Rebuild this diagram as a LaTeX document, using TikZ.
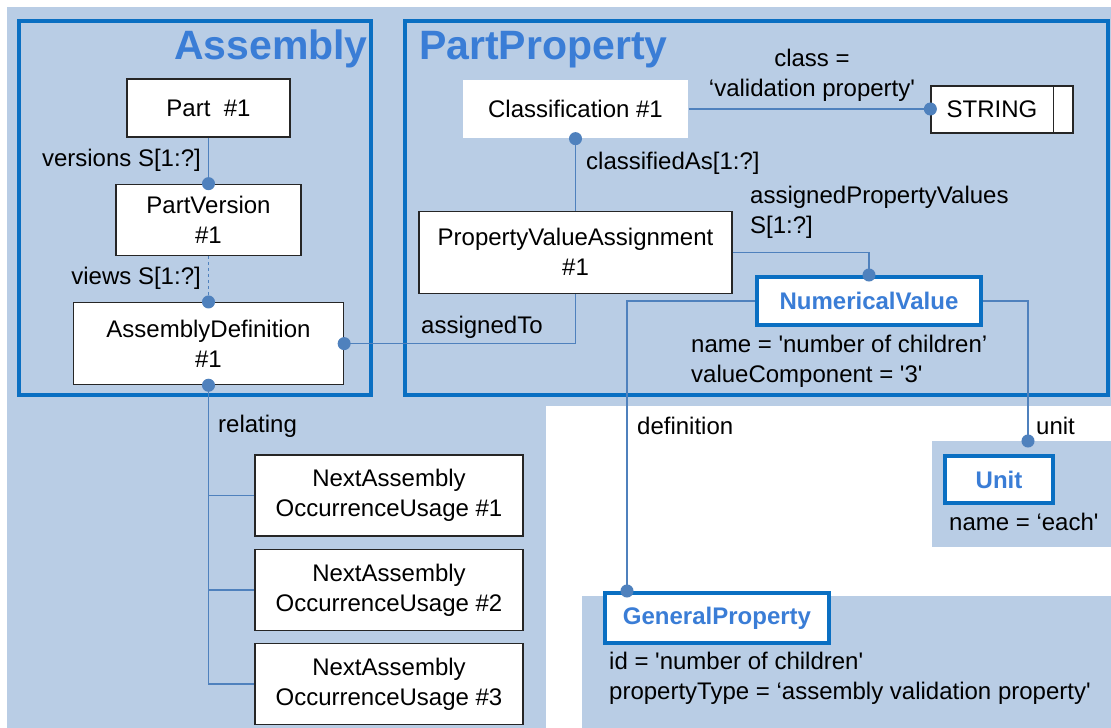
\documentclass[tikz,border=0pt]{standalone}
\usepackage{fontspec}
\newfontfamily\diagfont{Liberation Sans}
\usepackage{tikz}
\usetikzlibrary{arrows.meta, positioning, calc}
\definecolor{panelblue}{HTML}{B9CDE5}
\definecolor{frameblue}{HTML}{0A6FC2}
\definecolor{titleblue}{HTML}{3A7DD6}
\definecolor{linkblue}{HTML}{4F81BD}

\begin{document}
\begin{tikzpicture}[
    x=1pt, y=-1pt,
    node distance=46pt,
    every node/.style={font=\diagfont\fontsize{24}{30}\selectfont},
    obj/.style={rectangle, draw=black!85, line width=1.3pt, fill=white, inner sep=0pt, align=center},
    ent/.style={rectangle, draw=frameblue, line width=4pt, fill=white, inner sep=0pt, text=titleblue, font=\diagfont\bfseries\fontsize{24}{30}\selectfont},
    pkg/.style={draw=frameblue, line width=4pt},
    pkgtitle/.style={inner sep=0pt, text=titleblue, font=\diagfont\bfseries\fontsize{41}{48}\selectfont},
    lbl/.style={inner sep=0pt, align=left},
    link/.style={draw=linkblue, line width=1.5pt},
    dotend/.style={-{Circle[length=13pt]}, shorten >=-6.5pt},
    dotstart/.style={{Circle[length=13pt]}-, shorten <=-6.5pt},
  ]
    \useasboundingbox (0,0) rectangle (1111,728);
    % backgrounds
    \fill[panelblue] (7,7) rectangle (1111,728);
    \fill[white] (546,406) rectangle (1111,728);
    \fill[panelblue] (932,441) rectangle (1111,547);
    \fill[panelblue] (582,596) rectangle (1111,728);
    \draw[pkg] (19,21) rectangle (371,395);
    \draw[pkg] (405,21) rectangle (1108,395);
    \node[pkgtitle, anchor=base east] (asmtitle) at (368,59) {Assembly};
    \node[pkgtitle, anchor=base west] (pptitle) at (419,59) {PartProperty};

    % Assembly
    \node[obj, minimum width=163pt, minimum height=58pt] (part) at (208.5,108) {Part~~\#1};
    \node[obj, minimum width=185pt, minimum height=71pt, below=of part] (pver) {PartVersion\\\#1};
    \node[obj, minimum width=270pt, minimum height=82pt, below=of pver] (adef) {AssemblyDefinition\\\#1};
    \node[obj, minimum width=268pt, minimum height=81pt] (naou1) at (389,495.5) {NextAssembly\\OccurrenceUsage \#1};
    \node[obj, minimum width=268pt, minimum height=81pt, below=12pt of naou1] (naou2) {NextAssembly\\OccurrenceUsage \#2};
    \node[obj, minimum width=268pt, minimum height=81pt, below=12pt of naou2] (naou3) {NextAssembly\\OccurrenceUsage \#3};

    % PartProperty
    \node[obj, draw=none, minimum width=225pt, minimum height=58pt] (cls) at (575.5,109) {Classification \#1};
    \node[obj, minimum width=313pt, minimum height=82pt, below=72pt of cls] (pva) {PropertyValueAssignment\\\#1};
    \node[obj, minimum width=142pt, minimum height=47pt] (str) at (1002,109.5) {STRING\hspace{20pt}};
    \draw[black!85, line width=1.3pt] ([xshift=-20pt]str.north east) -- ([xshift=-20pt]str.south east);
    \node[ent, minimum width=224pt, minimum height=48pt] (numv) at (869,301) {NumericalValue};
    \node[ent, minimum width=108pt, minimum height=47pt] (unit) at (999,479.5) {Unit};
    \node[ent, minimum width=224pt, minimum height=50pt] (genp) at (717,618) {GeneralProperty};
    \coordinate (unitpin) at (1028,441);

    % labels
    \node[lbl, anchor=east] (versionslbl) at (201,160) {versions S[1:?]};
    \node[lbl, anchor=east] (viewslbl) at (201,278) {views S[1:?]};
    \node[lbl, anchor=west] (relatinglbl) at (218,426) {relating};
    \node[lbl, anchor=west] (assignedlbl) at (421,327) {assignedTo};
    \node[lbl, anchor=west] (classifiedlbl) at (586,163) {classifiedAs[1:?]};
    \node[lbl, anchor=west] (apvlbl) at (750,212) {assignedPropertyValues\\S[1:?]};
    \node[lbl, align=center] (classlbl) at (812,75) {class =\\‘validation property'};
    \node[lbl, anchor=west] (numvattr) at (691,361) {name = 'number of children’\\valueComponent = '3'};
    \node[lbl, anchor=west] (deflbl) at (637,426) {definition};
    \node[lbl, anchor=west] (unitlbl) at (1036,426) {unit};
    \node[lbl, anchor=west] (unitattr) at (949,522) {name = ‘each'};
    \node[lbl, anchor=west] (genpattr) at (609,678) {id = 'number of children'\\propertyType = ‘assembly validation property'};

    % connectors
    \draw[link, dotend] (part.south) -- (pver.north);
    \draw[link, dashed, dotend] (pver.south) -- (adef.north);
    \draw[link, dotstart] (adef.south) |- (naou3.west);
    \draw[link] (adef.south |- naou1.west) -- (naou1.west);
    \draw[link] (adef.south |- naou2.west) -- (naou2.west);
    \draw[link, dotstart] (adef.east) -| (pva.south);
    \draw[link, dotstart] (cls.south) -- (pva.north);
    \draw[link, dotend] (cls.east) -- (cls.east -| str.west);
    \draw[link, dotend] (pva.east) -| (numv.north);
    \draw[link, dotend] (numv.west) -| ([xshift=24pt]genp.north west);
    \draw[link, dotend] (numv.east) -| (unitpin);
  \end{tikzpicture}
\end{document}
